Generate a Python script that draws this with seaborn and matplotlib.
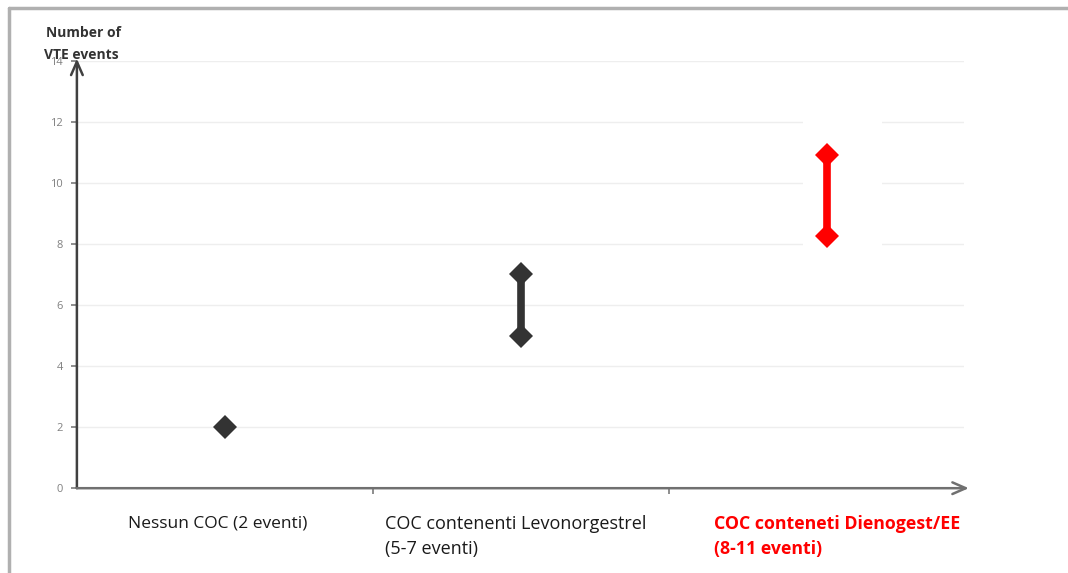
import matplotlib
matplotlib.use("Agg")
import matplotlib.pyplot as plt
from matplotlib.patches import Rectangle
import seaborn as sns
import pandas as pd

categories = ["Nessun COC (2 eventi)",
              "COC contenenti Levonorgestrel\n(5-7 eventi)",
              "COC conteneti Dienogest/EE\n(8-11 eventi)"]
low_values = [2, 5, 8.25]
high_values = [2, 7, 10.9]
colors = ["#333333", "#333333", "#ff0000"]
yticks = [0, 2, 4, 6, 8, 10, 12, 14]

# layout: horizontal placement of each marker within its category slot
x_positions = [0.5, 1.5, 2.535]

sns.set_theme(style="white")
plt.rcParams["font.family"] = ["Open Sans", "DejaVu Sans"]

rows = []
for c, xp, lo, hi in zip(categories, x_positions, low_values, high_values):
    rows.append({"cat": c, "pos": xp, "value": lo})
    if hi != lo:
        rows.append({"cat": c, "pos": xp, "value": hi})
df = pd.DataFrame(rows)

fig = plt.figure(figsize=(10.68, 5.73), dpi=100)
ax = fig.add_axes([0.072, 0.148, 0.831, 0.746])

for y in yticks[1:]:
    ax.axhline(y, color="#eeeeee", lw=1, zorder=0)
# white patch interrupting gridlines behind the red range
ax.add_patch(Rectangle((2.453, 7.5), 0.267, 5.0, facecolor="white",
                       edgecolor="none", zorder=0.5))

sns.lineplot(data=df, x="pos", y="value", hue="cat", units="cat", estimator=None,
             palette=dict(zip(categories, colors)), marker="D", markersize=12,
             markeredgewidth=0, linewidth=5.5, legend=False, ax=ax, zorder=3)

ax.set_xlim(0, 3)
ax.set_ylim(0, 14)
ax.set_yticks(yticks)
ax.set_yticklabels([str(t) for t in yticks], color="#808080", fontsize=8)
ax.set_xticks([1, 2])
ax.set_xticklabels([])
ax.tick_params(axis="y", length=4, color="#808080", direction="out", left=True, pad=6)
ax.tick_params(axis="x", length=4, color="#808080", direction="out", bottom=True)
for s in ax.spines.values():
    s.set_visible(False)
ax.set_xlabel("")
ax.set_ylabel("")

# axes with arrows
ax.annotate("", xy=(0, 1.005), xytext=(0, 0), xycoords="axes fraction",
            arrowprops=dict(arrowstyle="->,head_length=0.8,head_width=0.35",
                            color="#404040", lw=1.8, shrinkA=0, shrinkB=0))
ax.annotate("", xy=(1.005, 0), xytext=(0, 0), xycoords="axes fraction",
            arrowprops=dict(arrowstyle="->,head_length=0.8,head_width=0.35",
                            color="#707070", lw=1.8, shrinkA=0, shrinkB=0))

# category labels
xt = ax.get_xaxis_transform()
ax.text(0.475, -0.065, categories[0], transform=xt, ha="center",
        va="top", fontsize=12.5, color="#1a1a1a")
ax.text(1.042, -0.062, categories[1], transform=xt, ha="left",
        va="top", fontsize=13, color="#1a1a1a", linespacing=1.55)
ax.text(2.155, -0.062, categories[2], transform=xt, ha="left",
        va="top", fontsize=12.8, color="#ff0000", fontweight="bold", linespacing=1.55)

fig.text(0.043, 1 - 33 / 573, "Number of", ha="left", va="center", fontsize=10,
         fontweight="bold", color="#333333")
fig.text(0.041, 1 - 55 / 573, "VTE events", ha="left", va="center", fontsize=10,
         fontweight="bold", color="#333333")

# frame
fig.add_artist(plt.Line2D([0.008, 0.008], [0, 0.986], transform=fig.transFigure,
                          color="#b0b0b0", lw=2.5))
fig.add_artist(plt.Line2D([0.008, 1], [0.986, 0.986], transform=fig.transFigure,
                          color="#b0b0b0", lw=2.5))

fig.savefig("out.png", dpi=100, facecolor="white")
